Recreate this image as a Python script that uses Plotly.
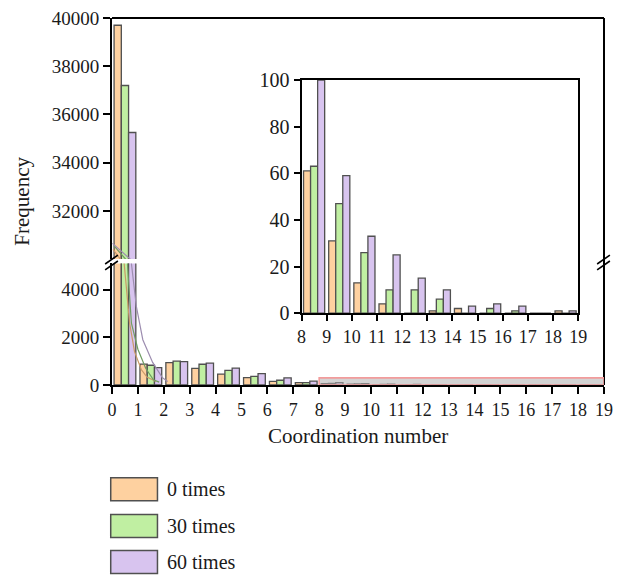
import plotly.graph_objects as go

# Coordination-number histogram for three treatment counts
coord = list(range(19))
freq_0 = [39700, 880, 940, 700, 460, 310, 150, 100, 61, 31, 13, 4, 0, 1, 2, 0, 0, 0, 1]
freq_30 = [37200, 830, 1000, 870, 610, 360, 200, 100, 63, 47, 26, 10, 10, 6, 0, 2, 1, 0, 0]
freq_60 = [35250, 730, 980, 920, 710, 480, 300, 160, 100, 59, 33, 25, 15, 10, 3, 4, 3, 0, 1]
series_names = ["0 times", "30 times", "60 times"]

# Decay curves traced over the first bins
curve_0_x = [0.04, 0.32, 0.47, 0.68, 0.87, 1.13, 1.35, 1.7]
curve_0_y = [30400, 30000, 5100, 2600, 1400, 650, 330, 150]
curve_30_x = [0.08, 0.52, 0.6, 0.75, 1.0, 1.3, 1.6, 1.82]
curve_30_y = [30550, 30000, 5000, 2600, 1500, 700, 220, 120]
curve_60_x = [0.02, 0.7, 0.75, 0.94, 1.19, 1.57, 1.95, 2.15]
curve_60_y = [30650, 30000, 5100, 3300, 1900, 950, 300, 150]

main_xticks = list(range(20))
upper_yticks = [32000, 34000, 36000, 38000, 40000]
lower_yticks = [0, 2000, 4000]
inset_xticks = list(range(8, 20))
inset_yticks = [0, 20, 40, 60, 80, 100]
inset_start = 8

fills = ["#FED1A0", "#C0EFA2", "#D8C4EF"]
curve_colors = ["#C99A68", "#6F9D62", "#9D8DB0"]
outline = "#505050"
FONT = "Liberation Serif"
INK = "#1a1a1a"

W, H = 620, 578
L, R, T, B = 112, 7, 12, 193
PW, PH = W - L - R, H - T - B


def px(x):
    return (x - L) / PW


def py(y):
    return (H - B - y) / PH


offsets = [0.08, 0.36, 0.64]
bw = 0.28

fig = go.Figure()
all_freqs = [freq_0, freq_30, freq_60]
for i, vals in enumerate(all_freqs):
    for ya in ["y", "y2"]:
        fig.add_trace(go.Bar(
            x=coord, y=vals, xaxis="x", yaxis=ya, name=series_names[i],
            offset=offsets[i], width=bw,
            marker=dict(color=fills[i], line=dict(color=outline, width=1.3)),
            showlegend=False))

inset_x = coord[inset_start:]
for i, vals in enumerate(all_freqs):
    fig.add_trace(go.Bar(
        x=inset_x, y=vals[inset_start:], xaxis="x3", yaxis="y3", name=series_names[i],
        offset=offsets[i], width=bw,
        marker=dict(color=fills[i], line=dict(color=outline, width=1.3)),
        showlegend=False))

curves = [(curve_0_x, curve_0_y), (curve_30_x, curve_30_y), (curve_60_x, curve_60_y)]
for i, (cx, cy) in enumerate(curves):
    for ya in ["y", "y2"]:
        fig.add_trace(go.Scatter(
            x=cx, y=cy, xaxis="x", yaxis=ya, mode="lines",
            line=dict(color=curve_colors[i], width=1.2, shape="linear"),
            showlegend=False, hoverinfo="skip"))

tickfont = dict(family=FONT, size=18, color=INK)
axis_common = dict(showline=True, linecolor="black", linewidth=2, ticks="outside",
                   tickwidth=2, tickcolor="black", showgrid=False, zeroline=False,
                   exponentformat="none", separatethousands=False)

fig.update_layout(
    width=W, height=H,
    margin=dict(l=L, r=R, t=T, b=B),
    paper_bgcolor="white", plot_bgcolor="white",
    barmode="overlay",
    font=dict(family=FONT, color=INK),
    xaxis=dict(domain=[0, 1], range=[0, 19], anchor="y2", tickvals=main_xticks,
               ticklen=7, tickfont=tickfont, **axis_common),
    yaxis=dict(domain=[py(257), 1], range=[30000, 40000], anchor="x",
               tickvals=upper_yticks, ticklen=7, tickformat="d",
               tickfont=dict(family=FONT, size=19, color=INK), **axis_common),
    yaxis2=dict(domain=[0, py(261.5)], range=[0, 5100], anchor="x",
                tickvals=lower_yticks, ticklen=7, tickformat="d",
                tickfont=dict(family=FONT, size=19, color=INK), **axis_common),
    xaxis3=dict(domain=[px(305), px(586.7)], range=[8, 19], anchor="y3",
                tickvals=inset_xticks, ticklen=6, mirror=True,
                tickfont=dict(family=FONT, size=18, color=INK), **axis_common),
    yaxis3=dict(domain=[py(312), py(75)], range=[0, 100], anchor="x3",
                tickvals=inset_yticks, ticklen=6, mirror=True,
                tickfont=dict(family=FONT, size=20, color=INK), **axis_common),
)

shapes = []
# frame: top and right edges of the main panel
shapes.append(dict(type="line", xref="paper", yref="paper", x0=0, x1=1, y0=1, y1=1,
                   line=dict(color="black", width=2)))
shapes.append(dict(type="line", xref="paper", yref="paper", x0=1, x1=1, y0=0, y1=1,
                   line=dict(color="black", width=2)))
# axis-break marks
for bx in [(105, 118), (606, 619)]:
    for dy in [0, 6]:
        shapes.append(dict(type="line", xref="paper", yref="paper",
                           x0=px(bx[0]), x1=px(bx[1]),
                           y0=py(262 + dy), y1=py(253 + dy),
                           line=dict(color="black", width=1.6)))
# highlighted zoom region of the tail
shapes.append(dict(type="rect", xref="x", yref="y2", x0=inset_start, x1=19, y0=0, y1=300,
                   fillcolor="rgba(175,175,175,0.55)", line=dict(color="#F29C9C", width=1.6),
                   layer="above"))
# legend swatches
legend_rows = [(479.3, 502.7), (516.7, 540.0), (553.3, 576.7)]
annotations = []
for i, (y0, y1) in enumerate(legend_rows):
    shapes.append(dict(type="rect", xref="paper", yref="paper",
                       x0=px(110.7), x1=px(158.3), y0=py(y1), y1=py(y0),
                       fillcolor=fills[i], line=dict(color=outline, width=1.5)))
    annotations.append(dict(x=px(166), y=py((y0 + y1) / 2), xref="paper", yref="paper",
                            text=series_names[i], showarrow=False, xanchor="left",
                            yanchor="middle",
                            font=dict(family=FONT, size=20, color=INK)))

annotations.append(dict(x=px(20), y=py(198), xref="paper", yref="paper", text="Frequency",
                        textangle=-90, showarrow=False, xanchor="center", yanchor="middle",
                        font=dict(family=FONT, size=21, color=INK)))
annotations.append(dict(x=0.5, y=py(437), xref="paper", yref="paper",
                        text="Coordination number", showarrow=False, xanchor="center",
                        yanchor="middle", font=dict(family=FONT, size=21, color=INK)))

fig.update_layout(shapes=shapes, annotations=annotations)

fig.write_html("out.html")
